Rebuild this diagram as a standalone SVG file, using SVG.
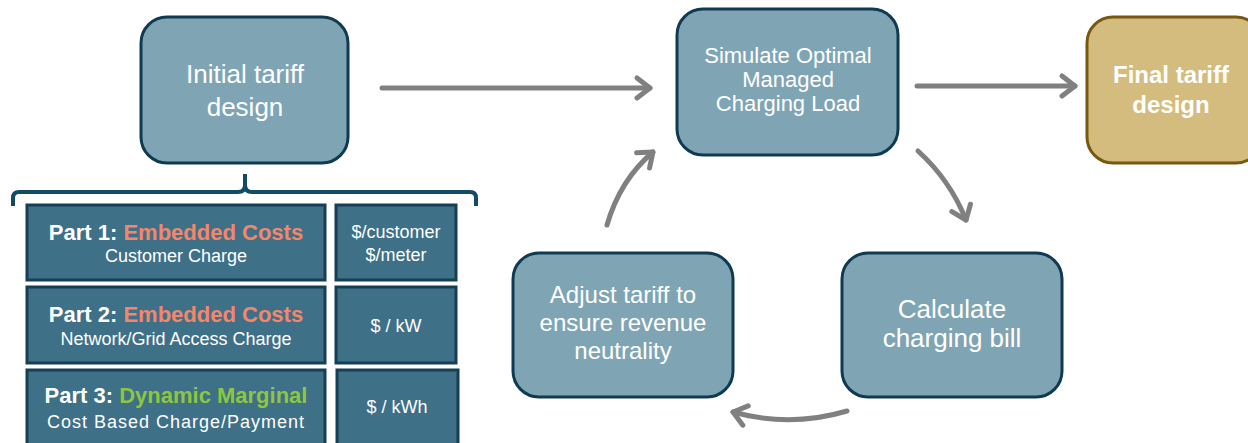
<svg xmlns="http://www.w3.org/2000/svg" width="1248" height="443" viewBox="0 0 1248 443">
<defs>
<style>
.node{fill:#7fa5b5;stroke:#0e3a52;stroke-width:3}
.final{fill:#d4bc7e;stroke:#7a5710;stroke-width:3}
.part{fill:#3e7088;stroke:#173f54;stroke-width:3}
.t{font-family:"Liberation Sans",Arial,sans-serif;fill:#ffffff;text-anchor:middle}
.big{font-size:26px}
.adj{font-size:24px}
.mid{font-size:22px}
.ttl{font-size:22px;font-weight:bold}
.sub{font-size:18px}
.orange{fill:#f4876b}
.green{fill:#8dc641}
.arrow{fill:none;stroke:#808080;stroke-width:5;stroke-linecap:round}
</style>
<marker id="ah" viewBox="-20 -15 30 30" refX="0" refY="0" markerWidth="30" markerHeight="30" markerUnits="userSpaceOnUse" orient="auto">
<path d="M-13 -10 L0 0 L-13 10" fill="none" stroke="#808080" stroke-width="5" stroke-linecap="round" stroke-linejoin="round"/>
</marker>
</defs>
<rect width="1248" height="443" fill="#ffffff"/>

<g id="connectors">
<path class="arrow" d="M382 88 L650 88" marker-end="url(#ah)"/>
<path class="arrow" d="M917 86 L1075 86" marker-end="url(#ah)"/>
<path class="arrow" d="M918 151 Q950 180 966 220" marker-end="url(#ah)"/>
<path class="arrow" d="M847 411 Q790 428 733 412" marker-end="url(#ah)"/>
<path class="arrow" d="M607 225 Q620 180 653 152" marker-end="url(#ah)"/>
<path d="M13 206 L13 198 Q13 192 19 192 L238 192 Q245 192 245 185 L245 174 M245 185 Q245 192 252 192 L470 192 Q476 192 476 198 L476 206" fill="none" stroke="#134a66" stroke-width="4" stroke-linejoin="round"/>
</g>

<g id="initial">
<rect class="node" x="141" y="17" width="207" height="146" rx="26"/>
<text class="t big" x="245" y="83">Initial tariff</text>
<text class="t big" x="245" y="116">design</text>
</g>

<g id="simulate">
<rect class="node" x="677" y="9" width="221" height="146" rx="26"/>
<text class="t mid" x="788" y="63">Simulate Optimal</text>
<text class="t mid" x="788" y="87">Managed</text>
<text class="t mid" x="788" y="111">Charging Load</text>
</g>

<g id="final">
<rect class="final" x="1087" y="17" width="175" height="146" rx="26"/>
<text class="t ttl" x="1171" y="83" style="font-size:24px">Final tariff</text>
<text class="t ttl" x="1171" y="113" style="font-size:24px">design</text>
</g>

<g id="calculate">
<rect class="node" x="842" y="253" width="220" height="144" rx="26"/>
<text class="t big" x="952" y="318">Calculate</text>
<text class="t big" x="952" y="347">charging bill</text>
</g>

<g id="adjust">
<rect class="node" x="513" y="253" width="220" height="144" rx="26"/>
<text class="t adj" x="623" y="303">Adjust tariff to</text>
<text class="t adj" x="623" y="331">ensure revenue</text>
<text class="t adj" x="623" y="359">neutrality</text>
</g>

<g id="part1">
<rect class="part" x="27" y="205" width="298" height="75"/>
<text class="t ttl" x="176" y="240">Part 1: <tspan class="orange">Embedded Costs</tspan></text>
<text class="t sub" x="176" y="262">Customer Charge</text>
</g>
<g id="unit1">
<rect class="part" x="336" y="205" width="120" height="75"/>
<text class="t sub" x="396" y="238">$/customer</text>
<text class="t sub" x="396" y="261">$/meter</text>
</g>

<g id="part2">
<rect class="part" x="27" y="287" width="298" height="76"/>
<text class="t ttl" x="176" y="322">Part 2: <tspan class="orange">Embedded Costs</tspan></text>
<text class="t sub" x="176" y="345">Network/Grid Access Charge</text>
</g>
<g id="unit2">
<rect class="part" x="336" y="287" width="120" height="76"/>
<text class="t sub" x="396" y="332">$ / kW</text>
</g>

<g id="part3">
<rect class="part" x="27" y="370" width="298" height="82"/>
<text class="t ttl" x="176" y="403">Part 3: <tspan class="green">Dynamic Marginal</tspan></text>
<text class="t sub" x="176" y="428" style="letter-spacing:1px">Cost Based Charge/Payment</text>
</g>
<g id="unit3">
<rect class="part" x="337" y="370" width="121" height="82"/>
<text class="t sub" x="397" y="413">$ / kWh</text>
</g>
</svg>
